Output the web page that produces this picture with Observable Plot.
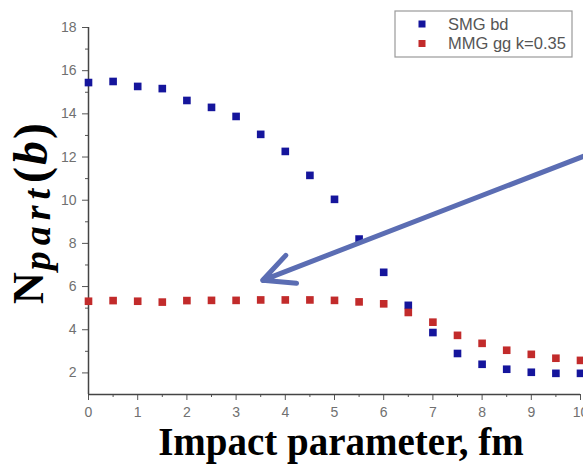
<!DOCTYPE html>
<html><head><meta charset="utf-8">
<script src="https://cdn.jsdelivr.net/npm/d3@7"></script>
<script src="https://cdn.jsdelivr.net/npm/@observablehq/plot@0.6"></script>
<style>html,body{margin:0;padding:0;background:#fff;overflow:hidden}</style>
</head><body><div id="chart"></div>
<script>
// ---- data ----
const impactB = [0,0.5,1,1.5,2,2.5,3,3.5,4,4.5,5,5.5,6,6.5,7,7.5,8,8.5,9,9.5,10];
const smgBd   = [15.45,15.5,15.27,15.17,14.62,14.3,13.88,13.05,12.26,11.15,10.04,8.2,6.66,5.13,3.87,2.9,2.4,2.17,2.03,1.98,1.98];
const mmgGg   = [5.32,5.35,5.32,5.28,5.35,5.36,5.36,5.38,5.38,5.38,5.36,5.29,5.2,4.8,4.35,3.74,3.37,3.05,2.86,2.68,2.58];
const seriesNames  = ["SMG bd", "MMG gg k=0.35"];
const seriesColors = ["#15159c", "#c22b2b"];
const xTicks = [0,1,2,3,4,5,6,7,8,9,10];
const xMinorTicks = [0.5,1.5,2.5,3.5,4.5,5.5,6.5,7.5,8.5,9.5];
const yTicks = [2,4,6,8,10,12,14,16,18];
const yMinorTicks = [3,5,7,9,11,13,15,17];
const xTitle = "Impact parameter, fm";
const arrowAnnot = [{x1: 10.1, y1: 12.07, x2: 3.54, y2: 6.29}];

const rows = [];
impactB.forEach((b, i) => rows.push({b, n: smgBd[i], s: seriesNames[0]}));
impactB.forEach((b, i) => rows.push({b, n: mmgGg[i], s: seriesNames[1]}));

const plot = Plot.plot({
  width: 583, height: 467,
  marginLeft: 88, marginRight: 3, marginTop: 27, marginBottom: 73,
  x: {domain: [0, 10]},
  y: {domain: [1, 18]},
  color: {domain: seriesNames, range: seriesColors},
  style: {background: "#fff", fontFamily: "'Liberation Sans', Arial, sans-serif"},
  marks: [
    Plot.axisY({ticks: yMinorTicks, tickSize: 3, text: null, label: null, stroke: "#555"}),
    Plot.axisY({ticks: yTicks, tickSize: 6, tickPadding: 6, fontSize: 14, fill: "#707070", stroke: "#555", label: null}),
    Plot.axisX({ticks: xMinorTicks, tickSize: 3, text: null, label: null, stroke: "#555"}),
    Plot.axisX({ticks: xTicks, tickSize: 6, tickPadding: 7, fontSize: 14, fill: "#707070", stroke: "#555", label: null}),
    Plot.ruleX([0], {stroke: "#444", strokeWidth: 1.5}),
    Plot.ruleY([1], {stroke: "#444", strokeWidth: 1.5}),
    Plot.dot(rows, {x: "b", y: "n", fill: "s", symbol: "square", r: 4.3}),
    Plot.arrow(arrowAnnot, {x1: "x1", y1: "y1", x2: "x2", y2: "y2", stroke: "#5b6db3", strokeWidth: 5, headLength: 10.2, headAngle: 52})
  ]
});
document.getElementById("chart").appendChild(plot);

const svg = d3.select(plot);
const serif = "'Liberation Serif', 'DejaVu Serif', serif";

// x title
svg.append("text")
  .attr("x", 341).attr("y", 455)
  .attr("text-anchor", "middle")
  .attr("font-family", serif).attr("font-weight", "bold").attr("font-size", 39)
  .attr("fill", "#000")
  .text(xTitle);

// y title: N_part(b)
const yt = svg.append("text")
  .attr("transform", "translate(43,213.5) rotate(-90)")
  .attr("text-anchor", "middle")
  .attr("font-family", serif).attr("font-weight", "bold").attr("font-size", 44)
  .attr("fill", "#000");
yt.append("tspan").attr("letter-spacing", 2).text("N");
yt.append("tspan").attr("font-style", "italic").attr("font-size", 38).attr("letter-spacing", 6).attr("dy", 7).text("part");
yt.append("tspan").attr("dy", -3).attr("font-size", 48).attr("letter-spacing", 2).text("(");
yt.append("tspan").attr("font-style", "italic").attr("font-size", 48).attr("letter-spacing", 2).text("b");
yt.append("tspan").attr("font-size", 48).text(")");

// legend
const lg = svg.append("g");
lg.append("rect").attr("x", 395).attr("y", 11).attr("width", 177).attr("height", 46)
  .attr("fill", "#fff").attr("stroke", "#9a9a9a").attr("stroke-width", 1.2);
seriesNames.forEach((name, i) => {
  const cy = 24 + i * 19.5;
  lg.append("rect").attr("x", 418.5).attr("y", cy - 3.5).attr("width", 7).attr("height", 7).attr("fill", seriesColors[i]);
  lg.append("text").attr("x", 448).attr("y", cy + 5.5)
    .attr("text-anchor", "start")
    .attr("font-family", "'Liberation Sans', Arial, sans-serif").attr("font-size", 16.5)
    .attr("fill", "#555").text(name);
});
</script>
</body></html>
